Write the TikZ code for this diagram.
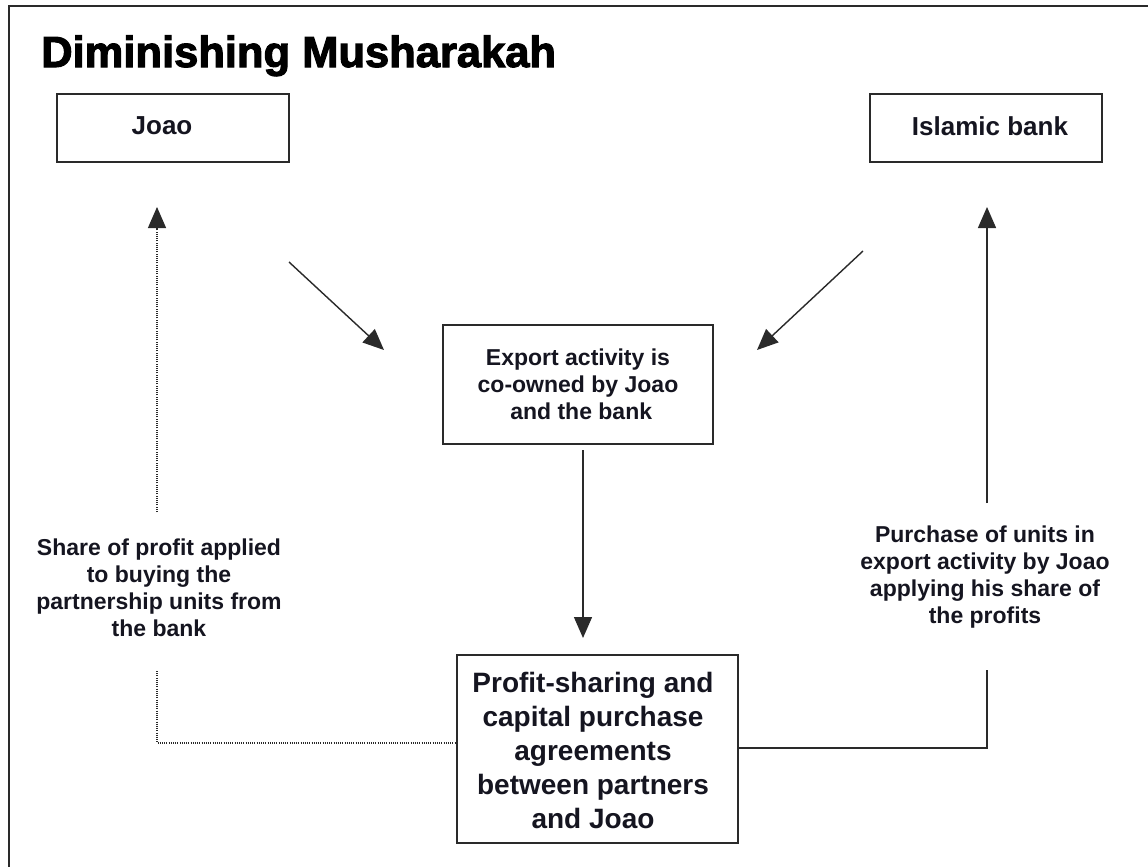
\documentclass[tikz,border=0pt]{standalone}
\usepackage{fontspec}
\setmainfont{Liberation Sans}
\newfontfamily\titlefont[FakeBold=2.5]{Liberation Sans Bold}
\usetikzlibrary{arrows.meta}
\definecolor{ink}{HTML}{151520}
\definecolor{edge}{HTML}{2A2A2A}
\tikzset{
  box/.style={draw=edge, line width=1.5pt, inner sep=0pt, text=ink},
  lbl/.style={text=ink, align=center, inner sep=0pt, font=\fontsize{23}{27}\selectfont\bfseries},
  tip/.style={-{Triangle[length=21pt,width=18pt]}},
  arr/.style={draw=edge, line width=1.4pt, tip},
  lnk/.style={draw=edge, line width=1.4pt},
  dotl/.style={draw=edge, line width=1.2pt, dash pattern=on 1pt off 1.2pt}
}
\begin{document}
\begin{tikzpicture}[x=1pt,y=-1pt]
\useasboundingbox (0,0) rectangle (1148,867);
\fill[white] (0,0) rectangle (1148,867);
\draw[edge, line width=1.5pt] (9,867) -- (9,6) -- (1148,6);
\node[anchor=base west, inner sep=0pt, text=black, font=\fontsize{43.5}{50}\selectfont\titlefont] (title) at (41,67) {Diminishing Musharakah};
% boxes
\node[box, minimum width=232pt, minimum height=68pt] (joao) at (173,128) {};
\node[lbl, font=\fontsize{26}{30}\selectfont\bfseries] (joaot) at (162,126) {Joao};
\node[box, minimum width=232pt, minimum height=68pt] (bank) at (986,128) {};
\node[lbl, font=\fontsize{26}{30}\selectfont\bfseries] (bankt) at (990,126) {Islamic bank};
\node[box, minimum width=270pt, minimum height=119pt] (exp) at (578,384.5) {};
\node[lbl] (expt) at (578,384) {Export activity is\\co-owned by Joao\\\ and the bank};
\node[box, minimum width=281pt, minimum height=188pt] (agr) at (597.5,749) {};
\node[lbl, font=\fontsize{28}{34}\selectfont\bfseries] (agrt) at (593,750) {Profit-sharing and\\capital purchase\\agreements\\between partners\\and Joao};
% labels
\node[lbl] (lshare) at (159,588) {Share of profit applied\\to buying the\\partnership units from\\the bank};
\node[lbl] (lpurch) at (985,577) {Purchase of units in\\export activity by Joao\\applying his share of\\the profits};
% connector points
\coordinate (j1) at (289,262);
\coordinate (j2) at (384,350);
\coordinate (b1) at (863,251);
\coordinate (b2) at (757,350);
\coordinate (e1) at (583,450);
\coordinate (e2) at (583,638);
\coordinate (lu1) at (157,512);
\coordinate (lu2) at (157,207);
\coordinate (ld1) at (157,671);
\coordinate (ld2) at (157,743);
\coordinate (ru1) at (987,503);
\coordinate (ru2) at (987,207);
\coordinate (rd1) at (987,670);
\coordinate (rd2) at (987,748);
% connectors
\draw[arr] (j1) -- (j2);
\draw[arr] (b1) -- (b2);
\draw[arr] (e1) -- (e2);
\draw[dotl, tip] (lu1) -- (lu2);
\draw[dotl] (ld1) -- (ld2) -- (agr.west |- ld2);
\draw[arr] (ru1) -- (ru2);
\draw[lnk] (rd1) -- (rd2) -- (agr.east |- rd2);
\end{tikzpicture}
\end{document}
